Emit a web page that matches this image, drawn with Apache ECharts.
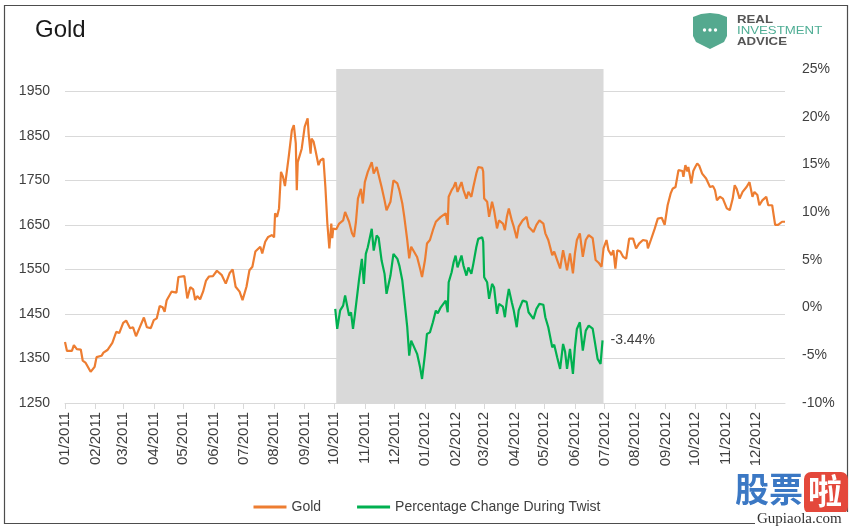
<!DOCTYPE html>
<html><head><meta charset="utf-8">
<script src="https://cdn.jsdelivr.net/npm/echarts@6/dist/echarts.min.js"></script>
<style>html,body{margin:0;padding:0;background:#fff}#c{width:854px;height:530px}</style>
</head><body><div id="c"></div>
<script>
// ---- data (day = days since 2011-01-01) ----
const startDate = '2011-01-01';
const endDate = '2012-12-31';
const twistPeriod = ['2011-10-03', '2012-06-30'];

const goldDay = [0,2,7,9,12,16,18,21,26,30,32,37,39,43,48,52,55,59,62,66,69,72,76,80,83,87,90,93,96,99,101,103,108,113,115,121,124,127,130,132,134,137,140,143,146,150,154,159,163,167,170,173,177,180,184,187,190,193,198,200,203,206,210,212,213,215,217,219,221,223,225,227,230,232,234,235,236,238,240,242,243,246,247,249,250,252,254,257,259,262,264,266,268,270,271,272,275,278,282,284,286,288,291,293,295,297,300,302,304,307,311,313,316,318,321,324,326,330,333,337,339,342,344,347,349,351,353,357,360,362,365,367,370,373,376,378,381,383,386,388,389,392,394,396,398,402,404,407,409,412,414,417,419,423,424,425,428,430,433,435,438,440,444,446,448,450,453,455,458,460,464,468,470,475,478,481,485,487,490,494,496,499,502,505,507,509,512,515,517,519,522,525,528,531,535,538,541,544,546,549,551,554,556,558,560,563,566,569,572,576,579,582,586,590,591,594,596,598,601,605,608,611,614,616,619,622,626,627,629,631,632,635,637,639,641,643,646,648,650,652,654,657,659,661,664,667,671,674,677,679,681,684,687,689,691,694,696,697,699,702,704,707,709,711,713,717,718,720,723,727,730];
const goldPrice = [1387,1367,1367,1380,1371,1370,1345,1340,1320,1331,1353,1356,1363,1369,1385,1410,1407,1430,1435,1418,1420,1400,1421,1442,1420,1418,1436,1440,1468,1465,1455,1480,1500,1498,1533,1535,1485,1510,1505,1481,1490,1483,1500,1525,1534,1535,1547,1537,1518,1542,1550,1511,1500,1481,1511,1548,1556,1590,1601,1586,1612,1623,1627,1622,1676,1668,1687,1769,1758,1737,1740,1806,1862,1874,1833,1728,1791,1788,1821,1818,1870,1889,1855,1810,1844,1837,1817,1784,1795,1799,1735,1653,1597,1653,1620,1642,1640,1653,1660,1679,1679,1657,1631,1623,1657,1709,1731,1698,1746,1769,1791,1765,1780,1783,1735,1705,1683,1702,1750,1743,1728,1698,1668,1616,1575,1601,1598,1578,1552,1533,1571,1608,1616,1638,1657,1653,1668,1666,1676,1650,1713,1728,1735,1746,1724,1746,1728,1709,1724,1713,1735,1765,1780,1778,1770,1709,1702,1668,1702,1683,1642,1660,1653,1638,1668,1687,1660,1646,1620,1646,1660,1668,1646,1634,1650,1660,1653,1631,1616,1582,1590,1571,1552,1593,1571,1548,1586,1541,1586,1616,1631,1578,1616,1627,1620,1571,1565,1556,1597,1616,1593,1582,1593,1552,1593,1590,1578,1574,1619,1619,1597,1608,1616,1614,1597,1616,1615,1642,1664,1666,1650,1694,1720,1731,1735,1773,1771,1758,1784,1770,1780,1743,1771,1780,1788,1783,1765,1767,1754,1756,1735,1737,1728,1705,1713,1709,1687,1683,1709,1739,1731,1709,1724,1724,1735,1746,1750,1713,1724,1717,1694,1705,1703,1713,1694,1694,1690,1650,1650,1657,1657];

const twistDay = [274,276,279,282,284,286,288,290,292,294,296,298,301,303,305,307,311,313,316,318,321,324,326,330,333,337,339,342,344,347,349,351,353,357,360,362,365,367,370,373,376,378,381,383,386,388,389,392,394,396,398,402,404,407,409,412,414,417,419,423,424,425,428,430,433,435,438,440,444,446,448,450,453,455,458,460,464,468,470,475,478,481,485,487,490,494,496,499,502,505,507,509,512,515,517,519,522,525,528,531,535,537,540,543,545];
const twistPct = [-0.14,-2.24,-0.3,0.2,1.26,1.2,-0.84,-0.5,-2.24,-0.66,-0.5,2.83,5.1,2.48,5.63,6.32,8.25,5.97,7.55,7.3,4.93,3.53,1.44,3.35,5.63,5.1,4.4,2.83,0.91,-2.06,-5.03,-3.46,-3.6,-4.85,-6.26,-7.48,-4.85,-2.76,-2.6,-1.54,-0.31,-0.6,0.03,-0.1,0.73,-0.49,2.65,3.7,4.75,5.45,4.22,5.45,4.4,3.35,4.2,3.53,4.58,6.32,7.2,7.37,6.9,3.18,2.65,0.91,2.48,2.13,-0.66,0.39,0.1,-1.01,0.73,1.96,0.56,-0.31,-2.06,-0.3,0.73,0.6,-0.49,-1.19,-0.14,0.39,0.3,-1.01,-2.06,-4.16,-3.9,-5.21,-6.43,-3.81,-4.6,-6.43,-4.33,-6.95,-4.16,-2.24,-1.54,-4.51,-2.41,-1.89,-2.2,-3.46,-5.38,-5.9,-3.44];

const priceAxis = { min: 1250, max: 2000, step: 100 };
const pctAxis = { min: -10, max: 25, step: 5 };
const seriesNames = ['Gold', 'Percentage Change During Twist'];

// ---- build ----
const dates = [];
for (let t = Date.UTC(2011,0,1); t <= Date.parse(endDate + 'T00:00:00Z'); t += 86400000) {
  dates.push(new Date(t).toISOString().slice(0,10));
}
const goldData = goldDay.map((d,i) => [dates[d], goldPrice[i]]);
const twistData = twistDay.map((d,i) => [dates[d], twistPct[i]]);
const isMonthStart = (i, v) => v.slice(8) === '01';
const FONT = 'Liberation Sans';
const TXT = '#404040';

const chart = echarts.init(document.getElementById('c'), null, {renderer: 'canvas'});
chart.setOption({
  animation: false,
  backgroundColor: '#fff',
  textStyle: { fontFamily: FONT },
  grid: { left: 65, right: 69, top: 69, bottom: 127 },
  xAxis: {
    type: 'category', data: dates, boundaryGap: false,
    axisLine: { onZero: false, lineStyle: { color: '#d9d9d9', width: 1 } },
    axisTick: { show: true, interval: isMonthStart, length: 6, lineStyle: { color: '#d9d9d9' } },
    axisLabel: { interval: isMonthStart, rotate: 90, margin: 9, fontSize: 15, color: TXT, fontFamily: FONT,
      formatter: v => v.slice(5,7) + '/' + v.slice(0,4) },
    splitLine: { show: false }
  },
  yAxis: [
    { type: 'value', min: priceAxis.min, max: priceAxis.max, interval: priceAxis.step, position: 'left',
      axisLine: { show: false }, axisTick: { show: false },
      axisLabel: { margin: 15, fontSize: 14, color: TXT, fontFamily: FONT,
        formatter: v => v === priceAxis.max ? '' : String(v) },
      splitLine: { show: true, showMaxLine: false, lineStyle: { color: '#d9d9d9', width: 1 } } },
    { type: 'value', min: pctAxis.min, max: pctAxis.max, interval: pctAxis.step, position: 'right',
      axisLine: { show: false }, axisTick: { show: false }, splitLine: { show: false },
      axisLabel: { margin: 17, fontSize: 14, color: TXT, fontFamily: FONT, formatter: '{value}%' } }
  ],
  legend: {
    data: seriesNames, left: 'center', top: 495, icon: 'rect', itemWidth: 33, itemHeight: 3, itemGap: 36,
    textStyle: { fontSize: 14, color: TXT, fontFamily: FONT }
  },
  series: [
    { name: seriesNames[0], type: 'line', yAxisIndex: 0, data: goldData, symbol: 'none', z: 3,
      lineStyle: { width: 2.2, color: '#ED7D31' }, itemStyle: { color: '#ED7D31' },
      markArea: { silent: true, itemStyle: { color: '#d9d9d9' },
        data: [[{ xAxis: twistPeriod[0] }, { xAxis: twistPeriod[1] }]] } },
    { name: seriesNames[1], type: 'line', yAxisIndex: 1, data: twistData, symbol: 'none', z: 4,
      lineStyle: { width: 2.2, color: '#00B050' }, itemStyle: { color: '#00B050' },
      endLabel: { show: true, distance: 8, fontSize: 14, color: TXT, fontFamily: FONT,
        formatter: p => p.value[1].toFixed(2) + '%' } }
  ],
  graphic: [
    { type: 'rect', shape: { x: 4.5, y: 5.5, width: 843, height: 518 }, style: { fill: 'none', stroke: '#4d4d4d', lineWidth: 1.2 }, z: 0, silent: true },
    { type: 'text', x: 35, y: 18, style: { text: 'Gold', fontSize: 24, fill: '#1a1a1a', fontFamily: FONT } },
    { type: 'polygon', shape: { points: [[693,17],[701,14],[710,13],[719,14],[727,17],[727,36],[724,42],[710,49],[696,42],[693,36]] }, style: { fill: '#55a98f' } },
    { type: 'circle', shape: { cx: 704.5, cy: 30, r: 1.7 }, style: { fill: '#fff' } },
    { type: 'circle', shape: { cx: 710, cy: 30, r: 1.7 }, style: { fill: '#fff' } },
    { type: 'circle', shape: { cx: 715.5, cy: 30, r: 1.7 }, style: { fill: '#fff' } },
    { type: 'text', x: 737, y: 14, scaleX: 1.15, style: { text: 'REAL', fontSize: 11.5, fontWeight: 'bold', fill: '#555', fontFamily: FONT } },
    { type: 'text', x: 737, y: 25, scaleX: 1.15, style: { text: 'INVESTMENT', fontSize: 11.5, fill: '#4fae95', fontFamily: FONT } },
    { type: 'text', x: 737, y: 36, scaleX: 1.15, style: { text: 'ADVICE', fontSize: 11.5, fontWeight: 'bold', fill: '#555', fontFamily: FONT } },
    { type: 'text', x: 735, y: 472, style: { text: '股票', fontSize: 34, fontWeight: 'bold', fill: '#3b78c4', fontFamily: 'Noto Sans CJK SC' } },
    { type: 'rect', shape: { x: 804, y: 472, width: 44, height: 42, r: 7 }, style: { fill: '#e4483b' } },
    { type: 'text', x: 808, y: 474, style: { text: '啦', fontSize: 34, fontWeight: 'bold', fill: '#fff', fontFamily: 'Noto Sans CJK SC' } },
    { type: 'rect', shape: { x: 755, y: 512, width: 96, height: 17 }, style: { fill: '#fff' } },
    { type: 'text', x: 757, y: 512, style: { text: 'Gupiaola.com', fontSize: 15, fill: '#333', fontFamily: 'Liberation Serif' } }
  ]
});
</script></body></html>
